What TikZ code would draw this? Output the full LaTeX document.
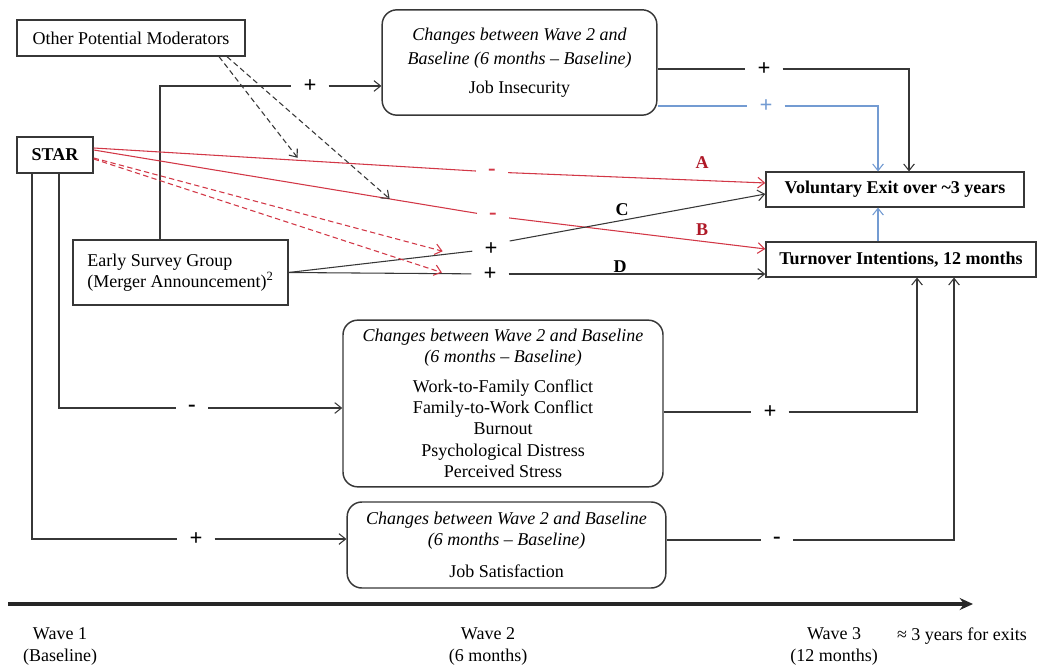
\documentclass[tikz,border=0pt]{standalone}
\usepackage{fontspec}
\setmainfont{Liberation Serif}
\usetikzlibrary{arrows.meta,calc}

\definecolor{linegray}{RGB}{55,55,55}
\definecolor{pathred}{RGB}{210,55,70}
\definecolor{labelred}{RGB}{175,25,40}
\definecolor{pathblue}{RGB}{115,155,210}
\newcommand\diagfont{\fontsize{13.5}{16}\selectfont}

\begin{document}
\begin{tikzpicture}[x=0.75pt, y=-0.75pt, font=\diagfont,
  box/.style={draw=linegray, line width=1.1pt, rectangle, inner sep=0pt},
  wavebox/.style={box, rounded corners=11pt, align=center},
  bold/.style={font=\diagfont\bfseries},
  sign/.style={inner xsep=9pt, inner ysep=1pt, font=\fontsize{17}{17}\selectfont\bfseries},
  link/.style={draw=linegray, line width=0.8pt},
  redlink/.style={draw=pathred, line width=0.8pt},
  bluelink/.style={draw=pathblue, line width=0.8pt},
  modlink/.style={dash pattern=on 4pt off 2.5pt, line width=0.8pt, shorten >=3pt},
  arr/.style={-{Straight Barb[length=5pt,width=8pt]}}]
  \useasboundingbox (0,0) rectangle (1037,666);

  % boxes
  \node (moderators) [box, minimum width=171pt, minimum height=27pt] at (131,38)
        {Other Potential Moderators};
  \node (star) [box, bold, minimum width=57pt, minimum height=27pt] at (55,155) {STAR};
  \node (early) [box, align=left, minimum width=161pt, minimum height=49pt] at (180.5,272.5)
        {Early Survey Group\\(Merger Announcement)\textsuperscript{2}};
  \node (insecurity) [wavebox, minimum width=206pt, minimum height=79pt] at (519.5,62.5)
        {\textit{Changes between Wave 2 and}\\[2pt]\textit{Baseline (6 months – Baseline)}\\[6pt]Job Insecurity};
  \node (exit) [box, bold, minimum width=193.5pt, minimum height=26pt] at (895,189.5)
        {Voluntary Exit over \textasciitilde3 years};
  \node (intent) [box, bold, minimum width=202.5pt, minimum height=26pt] at (901,259.5)
        {Turnover Intentions, 12 months};
  \node (strain) [wavebox, minimum width=240pt, minimum height=125pt] at (503,403.5)
        {\textit{Changes between Wave 2 and Baseline}\\\textit{(6 months – Baseline)}\\[6pt]Work-to-Family Conflict\\Family-to-Work Conflict\\Burnout\\Psychological Distress\\Perceived Stress};
  \node (satisf) [wavebox, minimum width=239pt, minimum height=64.5pt] at (506.5,545)
        {\textit{Changes between Wave 2 and Baseline}\\\textit{(6 months – Baseline)}\\[8pt]Job Satisfaction};

  % signs on the paths
  \node (pInsec) [sign] at (310,86) {+};
  \node (mStrain) [sign] at (192,408) {-};
  \node (pSatisf) [sign] at (196,539) {+};
  \node (pInsecOut) [sign] at (764,69) {+};
  \node (pInsecBlue) [sign, text=pathblue] at (766,106) {+};
  \node (pStrainOut) [sign] at (770,412) {+};
  \node (mSatisfOut) [sign] at (777,540) {-};
  \node (mA) [sign, text=pathred] at (492,172) {-};
  \node (mB) [sign, text=pathred] at (493,216) {-};
  \node (pC) [sign] at (491,249) {+};
  \node (pD) [sign] at (490,274) {+};

  % path letters
  \node (labA) [bold, text=labelred] at (702,163) {A};
  \node (labB) [bold, text=labelred] at (702,230) {B};
  \node (labC) [bold] at (622,210) {C};
  \node (labD) [bold] at (620,267) {D};

  % into the wave 2 changes
  \draw[link] ([xshift=-15.4pt]early.north) |- (pInsec);
  \draw[link, arr] (pInsec) -- (insecurity.west |- pInsec);
  \draw[link] ([xshift=3pt]star.south) |- (mStrain);
  \draw[link, arr] (mStrain) -- (strain.west |- mStrain);
  \draw[link] ([xshift=-17.25pt]star.south) |- (pSatisf);
  \draw[link, arr] (pSatisf) -- (satisf.west |- pSatisf);

  % wave 2 changes to the outcomes
  \draw[link] (insecurity.east |- pInsecOut) -- (pInsecOut);
  \draw[link, arr] (pInsecOut) -| ([xshift=10.5pt]exit.north);
  \draw[bluelink] (insecurity.east |- pInsecBlue) -- (pInsecBlue);
  \draw[bluelink, arr] (pInsecBlue) -| ([xshift=-12.75pt]exit.north);
  \draw[bluelink, arr] ([xshift=-17.25pt]intent.north) -- ([xshift=-17.25pt]intent.north |- exit.south);
  \draw[link] (strain.east |- pStrainOut) -- (pStrainOut);
  \draw[link, arr] (pStrainOut) -| ([xshift=12pt]intent.south);
  \draw[link] (satisf.east |- mSatisfOut) -- (mSatisfOut);
  \draw[link, arr] (mSatisfOut) -| ([xshift=39.75pt]intent.south);

  % A and B from STAR
  \draw[redlink] ([yshift=5.25pt]star.east) -- (mA);
  \draw[redlink, arr] (mA) -- ([yshift=4.9pt]exit.west);
  \draw[redlink] ([yshift=3.75pt]star.east) -- (mB);
  \draw[redlink, arr] (mB) -- ([yshift=7.9pt]intent.west);

  % C and D from the early survey group
  \draw[link] (early.east) -- (pC);
  \draw[link, arr] (pC.north east) -- ([yshift=-3.4pt]exit.west);
  \draw[link] (early.east) -- (pD);
  \draw[link, arr] (pD) -- (intent.west |- pD);

  % moderated paths
  \coordinate (onA) at ($([yshift=5.25pt]star.east)!0.54!(mA.west)$);
  \coordinate (onB) at ($([yshift=3.75pt]star.east)!0.78!(mB.west)$);
  \coordinate (onC) at ($(early.east)!0.86!(pC.west)$);
  \coordinate (onD) at ($(early.east)!0.86!(pD.west)$);
  \draw[link, modlink, arr] ([xshift=-20pt]moderators.south east) -- (onA);
  \draw[link, modlink, arr] ([xshift=-14pt]moderators.south east) -- (onB);
  \draw[redlink, modlink, arr] ([yshift=-2.25pt]star.east) -- (onC);
  \draw[redlink, modlink, arr] ([yshift=-3pt]star.east) -- (onD);

  % time line
  \coordinate (t0) at (8,604);
  \coordinate (t1) at (973,604);
  \draw[line width=2.4pt, draw=black!85, -{Stealth[length=10pt,width=9pt]}] (t0) -- (t1);
  \node (wave1) [align=center] at (60,646.5) {Wave 1\\(Baseline)};
  \node (wave2) [align=center] at (488,646.5) {Wave 2\\(6 months)};
  \node (wave3) [align=center] at (834,646.5) {Wave 3\\(12 months)};
  \node (exits) at (962,636) {≈ 3 years for exits};
\end{tikzpicture}
\end{document}
